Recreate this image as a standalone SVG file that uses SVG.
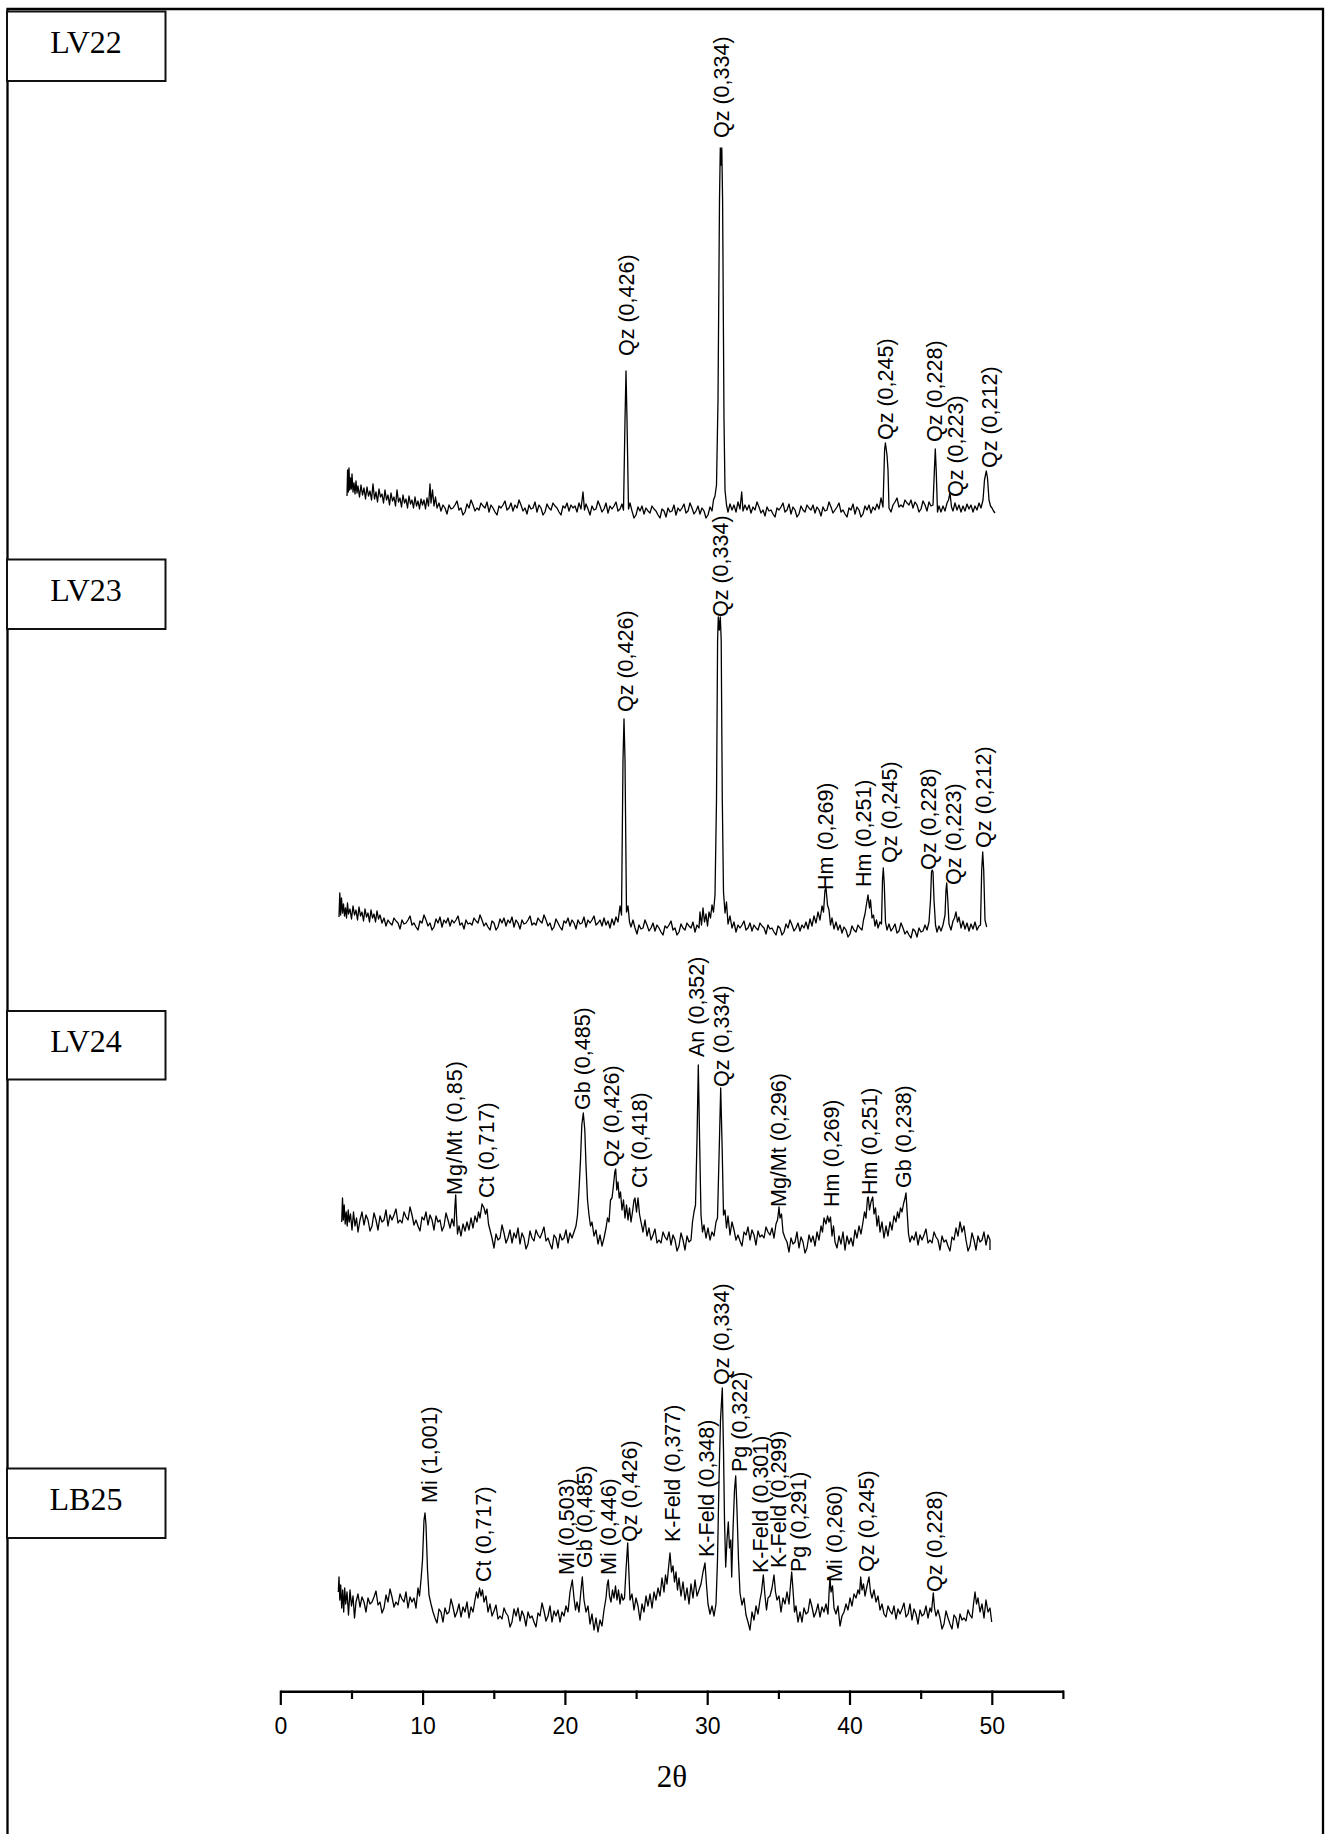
<svg xmlns="http://www.w3.org/2000/svg" width="1325" height="1834" viewBox="0 0 1325 1834">
<style>
.frame{fill:none;stroke:#000;stroke-width:2.3}
.box{fill:#fff;stroke:#111;stroke-width:2}
.boxtxt{font-family:"Liberation Serif","Times New Roman",serif;font-size:32px;fill:#000;text-anchor:middle}
.trace{fill:none;stroke:#000;stroke-width:1.3;stroke-linejoin:round}
.lbl{font-family:"Liberation Sans",Arial,sans-serif;font-size:21.5px;fill:#000}
.axis{fill:none;stroke:#000;stroke-width:2.5}
.tick{stroke:#000;stroke-width:2.2}
.ticklbl{font-family:"Liberation Sans",Arial,sans-serif;font-size:23px;fill:#000;text-anchor:middle}
.axtitle{font-family:"Liberation Serif","Times New Roman",serif;font-size:31px;fill:#000;text-anchor:middle}
</style>
<rect width="1325" height="1834" fill="#fff"/>
<path class="frame" d="M7.5,1834 V9 H1323 V1834"/>

<g id="LV22">
<rect class="box" x="7" y="11.5" width="158.5" height="69.5"/>
<text class="boxtxt" x="86" y="53">LV22</text>
<path class="trace" d="M347,496 L347.6,470 L348.3,492 L349,468 L349.7,490 L350.5,478 L351.3,489 L352,474 L353,492 L354,483 L355,494 L356,481 L357,493 L358,486 L359.5,497 L361,485 L362.5,495 L364,488 L365.5,499 L367,487 L368.5,496 L370,491 L371.5,500 L373,484 L374.5,499 L376,492 L377.5,502 L379,489 L380.5,497 L382,494 L383.5,503 L385,490 L386.5,500 L388,495 L389.5,505 L391,493 L392.5,501 L394,497 L395.5,506 L397,490 L398.5,502 L400,498 L401.5,507 L403,495 L404.5,503 L406,499 L407.5,508 L409,496 L410.5,504 L412,500 L413.5,508 L415,497 L416.5,506 L418,501 L419.5,509 L421,499 L422.5,505 L424,500 L425.5,509 L427,498 L428.5,506 L430,484 L431,503 L432.5,490 L434,506 L435.5,497 L437,508 l2,-5 2,8 2,-6 2,3 2,6 2,-9 2,4 2,-1 2,-3 2,-4 2,9 2,-2 2,7 2,-3 2,-8 2,4 2,-8 2,5 2,6 2,-3 2,2 2,-7 2,3 2,2 2,-6 2,10 2,-7 2,3 2,4 2,3 2,-9 2,2 2,-3 2,-4 2,9 2,-2 2,-5 2,8 2,-6 2,3 2,-8 2,5 2,6 2,-3 2,6 2,-9 2,4 2,-1 2,-6 2,10 2,-7 2,3 2,7 2,-3 2,-8 2,4 2,2 2,-7 2,3 2,2 2,4 2,3 2,-9 2,2 2,-5 2,8 2,-6 2,3 L575,506 L577,512 L579,503 L581,509 L583,492 L584.5,510 L586,504 L588,509 l2,6 2,-9 2,4 2,-1 2,-8 2,5 2,6 2,-3 2,-6 2,10 2,-7 2,3 2,-3 2,-4 2,9 2,-2 L622,504 L623.5,510 L625,420 L626,371 L627,420 L628.5,509 L630,503 L632,511 l2,7 2,-3 2,-8 2,4 2,-5 2,8 2,-6 2,3 2,2 2,-7 2,3 2,2 2,4 2,3 2,-9 2,2 2,6 2,-9 2,4 2,-1 2,-6 2,10 2,-7 2,3 2,-3 2,-4 2,9 2,-2 2,-8 2,5 2,6 2,-3 2,-5 2,8 2,-6 2,3 2,7 2,-3 2,-8 2,4 L713.5,500 L715,496 L716.5,485 L718,400 L719.5,200 L720.3,148 L721,165 L721.8,148 L722.6,200 L724,420 L725,490 L726.5,505 L728,512 L730,504 L732,510 L734,505 L736,512 L738,502 L740,509 L741.7,492 L743,511 L745,505 L747,510 l2,-5 2,8 2,-6 2,3 2,-8 2,5 2,6 2,-3 2,6 2,-9 2,4 2,-1 2,4 2,3 2,-9 2,2 2,-3 2,-4 2,9 2,-2 2,-6 2,10 2,-7 2,3 2,7 2,-3 2,-8 2,4 2,2 2,-7 2,3 2,2 2,-5 2,8 2,-6 2,3 2,6 2,-9 2,4 2,-1 2,-8 2,5 2,6 2,-3 2,-3 2,-4 2,9 2,-2 2,4 2,3 2,-9 2,2 2,-6 2,10 2,-7 2,3 2,7 2,-3 2,-8 2,4 2,-5 2,8 2,-6 2,3 L877,504 L879,509 L881,498 L883,507 L884.6,450 L885.4,443 L886.2,449 L887,455 L888,470 L889,508 L891,512 L893,505 l2,-3 2,-4 2,9 2,-2 2,2 2,-7 2,3 2,2 2,-5 2,8 2,-6 2,3 2,7 2,-3 2,-8 2,4 2,6 2,-9 2,4 2,-1 L934.4,470 L935.3,449 L936.2,470 L937.5,512 L939,506 L941,512 L943,506 L945,511 L947,503 L948.5,500 L950,493 L951.5,507 L953,511 L955,503 L957,510 L959,505 L961,512 L963,506 L965,511 L967,504 L969,509 L971,505 L973,512 L975,506 L977,510 L979,503 L981,508 L983,500 L984.5,480 L986.3,471 L987.5,478 L989,500 L990.5,506 L992,508 L993.5,511 L995,513"/>
<text class="lbl" transform="translate(634,356) rotate(-90)">Qz (0,426)</text>
<text class="lbl" transform="translate(729,138) rotate(-90)">Qz (0,334)</text>
<text class="lbl" transform="translate(893,440) rotate(-90)">Qz (0,245)</text>
<text class="lbl" transform="translate(942,442) rotate(-90)">Qz (0,228)</text>
<text class="lbl" transform="translate(963,497) rotate(-90)">Qz (0,223)</text>
<text class="lbl" transform="translate(997,468) rotate(-90)">Qz (0,212)</text>
</g>

<g id="LV23">
<rect class="box" x="7" y="559.5" width="158.5" height="69.5"/>
<text class="boxtxt" x="86" y="601">LV23</text>
<path class="trace" d="M339,917 L339.8,893 L340.6,915 L341.5,898 L342.5,913 L343.5,904 L344.5,916 L345.5,908 L346.5,918 L347.5,903 L348.5,914 L350,909 L351.5,919 L353,906 L354.5,915 L356,910 L357.5,920 L359,907 L360.5,916 L362,912 L363.5,921 L365,909 L366.5,917 L368,913 L369.5,922 L371,910 L372.5,918 L374,914 L375.5,922 L377,911 L378.5,919 L380,915 L382,923 l2,-5 2,8 2,-6 2,3 2,2 2,-7 2,3 2,2 2,6 2,-9 2,4 2,-1 2,-3 2,-4 2,9 2,-2 2,4 2,3 2,-9 2,2 2,-8 2,5 2,6 2,-3 2,7 2,-3 2,-8 2,4 2,-6 2,10 2,-7 2,3 2,-5 2,8 2,-6 2,3 2,-3 2,-4 2,9 2,-2 2,6 2,-9 2,4 2,-1 2,2 2,-7 2,3 2,2 2,-8 2,5 2,6 2,-3 2,4 2,3 2,-9 2,2 2,7 2,-3 2,-8 2,4 2,-5 2,8 2,-6 2,3 2,-6 2,10 2,-7 2,3 2,6 2,-9 2,4 2,-1 2,-3 2,-4 2,9 2,-2 2,2 2,-7 2,3 2,2 2,-8 2,5 2,6 2,-3 2,7 2,-3 2,-8 2,4 2,4 2,3 2,-9 2,2 2,-5 2,8 2,-6 2,3 2,6 2,-9 2,4 2,-1 2,-6 2,10 2,-7 2,3 2,-3 2,-4 2,9 2,-2 L600,920 L602,926 L604,918 L606,925 L608,921 L610,928 L612,919 L614,925 L616,917 L618,922 L620,906 L621.5,915 L623,760 L624,719 L625,760 L626.5,912 L628,906 L629.5,922 L631,927 L633,920 L635,928 l2,6 2,-9 2,4 2,-1 2,-8 2,5 2,6 2,-3 2,-5 2,8 2,-6 2,3 2,4 2,3 2,-9 2,2 2,-3 2,-4 2,9 2,-2 2,7 2,-3 2,-8 2,4 2,2 2,-7 2,3 2,2 2,-6 2,10 2,-7 2,3 L700,912 L701.5,925 L703,908 L704.5,922 L706,914 L707.5,926 L709,912 L710.5,918 L712,905 L713.5,912 L715,895 L716.5,800 L717.6,640 L718.3,617 L719.3,630 L720.3,617 L721.2,640 L722.3,800 L723.5,892 L725,913 L726.5,902 L728,924 L730,916 L732,928 l2,-6 2,10 2,-7 2,3 2,-3 2,-4 2,9 2,-2 2,-5 2,8 2,-6 2,3 2,2 2,-7 2,3 2,2 2,6 2,-9 2,4 2,-1 2,4 2,3 2,-9 2,2 2,7 2,-3 2,-8 2,4 2,-8 2,5 2,6 2,-3 2,-5 2,8 2,-6 2,3 L806,922 L808,929 L810,919 L812,926 L814,916 L816,923 L818,912 L820,920 L822,906 L823.5,912 L825,890 L826,888 L827.5,905 L829,910 L830.5,925 L832,918 L834,929 L836,922 L838,930 l2,-5 2,8 2,-6 2,3 2,7 2,-3 2,-8 2,4 2,2 2,-7 2,3 2,2 L863.5,920 L865,914 L866.5,904 L868,895 L869.5,908 L870.5,900 L872,918 L873.5,915 L875,926 L876.5,920 L878,928 L880,922 L881.5,924 L882.5,880 L883.3,868 L884.3,885 L885.5,922 L887,930 L889,924 L891,931 l2,-3 2,-4 2,9 2,-2 2,-8 2,5 2,6 2,-3 2,4 2,3 2,-9 2,2 2,6 2,-9 2,4 2,-1 L925,925 L927,930 L929,922 L930.5,900 L931.5,872 L932.2,870 L933,872 L934,900 L935.5,925 L937,932 L939,926 L941,931 L943,925 L945,915 L946,890 L946.7,883 L947.8,900 L949,924 L951,930 L953,921 L954.5,918 L956,912 L957.5,922 L959,917 L961,928 L963,921 L965,929 L967,923 L969,931 L971,924 L973,929 L975,922 L977,930 L979,926 L980.5,925 L981.7,870 L982.7,852 L983.7,870 L985,920 L986.7,927"/>
<text class="lbl" transform="translate(632.5,712) rotate(-90)">Qz (0,426)</text>
<text class="lbl" transform="translate(727.5,617) rotate(-90)">Qz (0,334)</text>
<text class="lbl" transform="translate(833,890) rotate(-90)">Hm (0,269)</text>
<text class="lbl" transform="translate(871,887) rotate(-90)">Hm (0,251)</text>
<text class="lbl" transform="translate(897,863) rotate(-90)">Qz (0,245)</text>
<text class="lbl" transform="translate(936,870) rotate(-90)">Qz (0,228)</text>
<text class="lbl" transform="translate(960.5,885) rotate(-90)">Qz (0,223)</text>
<text class="lbl" transform="translate(991,848) rotate(-90)">Qz (0,212)</text>
</g>

<g id="LV24">
<rect class="box" x="7" y="1011" width="158.5" height="68.5"/>
<text class="boxtxt" x="86" y="1052">LV24</text>
<path class="trace" d="M341.7,1222 L342.5,1198 L343.3,1220 L344.2,1205 L345.2,1224 L346.2,1212 L347.2,1226 L348.2,1210 L349.2,1222 L350.5,1214 L352,1230 L353.5,1212 L355,1226 L356.5,1218 L358,1232 L360,1220 l2,-8 2,13 2,-10 2,5 2,11 2,-5 2,-13 2,7 2,10 2,-14 2,6 2,-2 2,-10 2,16 2,-11 2,5 2,-5 2,-6 2,14 2,-3 2,3 2,-11 2,5 2,3 2,-13 2,8 2,10 2,-5 2,6 2,5 2,-14 2,3 2,-8 2,13 2,-10 2,5 2,10 2,-14 2,6 2,-2 2,11 2,-5 2,-13 2,7 L450,1228 L452,1219 L454,1226 L455,1205 L455.7,1195 L456.5,1215 L457.5,1234 L459,1226 L461,1236 L463,1224 L465,1231 L467,1222 L469,1230 L471,1218 L473,1228 L475,1216 L477,1222 L478.5,1212 L480,1218 L482,1204 L484,1208 L485.5,1214 L487,1209 L488.5,1224 L490,1230 L492,1238 l2,10 2,-14 2,6 2,-2 2,-13 2,8 2,10 2,-5 2,-8 2,13 2,-10 2,5 2,-10 2,16 2,-11 2,5 2,11 2,-5 2,-13 2,7 2,3 2,-11 2,5 2,3 2,-5 2,-6 2,14 2,-3 2,6 2,5 2,-14 2,3 2,10 2,-14 2,6 2,-2 2,-8 2,13 2,-10 2,5 L574,1232 L576,1226 L577.5,1215 L579,1190 L580.5,1160 L581.8,1125 L583.3,1113 L584.8,1130 L586,1165 L587.5,1200 L589,1215 L590.5,1226 L592,1222 L594,1236 L596,1230 L598,1244 L600,1235 L602,1246 L604,1238 L606,1228 L607.5,1218 L609,1222 L610.5,1200 L612,1198 L613.5,1185 L614.8,1172 L615.7,1169 L616.8,1190 L618,1182 L619.2,1198 L620.5,1192 L622,1210 L623.5,1200 L625,1218 L626.5,1205 L628,1220 L629.5,1208 L631,1222 L632.5,1212 L634,1200 L635,1198 L636.5,1212 L638,1198 L639.5,1214 L641,1222 L643,1232 L645,1220 L647,1236 L649,1228 L651,1240 l2,-5 2,-6 2,14 2,-3 2,3 2,-11 2,5 2,3 2,-8 2,13 2,-10 2,5 2,11 2,-5 2,-13 2,7 2,10 2,-14 2,6 2,-2 L692.5,1222 L694,1212 L695.5,1205 L697,1140 L698.3,1065 L699.6,1140 L701,1215 L702.5,1232 L704,1225 L706,1238 L708,1228 L710,1240 L712,1232 L714,1236 L716,1222 L717.5,1218 L719.2,1150 L720.7,1088 L722.2,1150 L723.5,1215 L725,1210 L726.5,1228 L728,1216 L730,1235 l2,-13 2,8 2,10 2,-5 2,6 2,5 2,-14 2,3 2,-8 2,13 2,-10 2,5 2,10 2,-14 2,6 2,-2 2,3 2,-11 2,5 2,3 L772,1228 L774,1238 L776,1224 L777.5,1220 L778.5,1212 L779,1207 L780,1218 L781.5,1214 L783,1232 L785,1238 L787,1242 l2,10 2,-14 2,6 2,-2 2,-10 2,16 2,-11 2,5 2,11 2,-5 2,-13 2,7 L813,1236 L815,1246 L817,1232 L819,1240 L821,1226 L822.5,1232 L824,1218 L826,1224 L827.5,1216 L829,1222 L830.5,1217 L832,1236 L833.5,1226 L835,1242 L837,1248 L839,1236 L841,1244 L843,1232 L845,1250 L847,1236 L849,1244 L851,1238 L853,1246 L855,1230 L857,1238 L859,1226 L861,1234 L863,1222 L864.5,1212 L866,1218 L867.5,1198 L868.3,1197 L869.5,1210 L871,1202 L872.7,1197 L874,1214 L875.5,1208 L877,1226 L878.5,1216 L880,1232 L882,1222 L884,1238 L886,1226 L888,1236 L890,1222 L892,1230 L894,1216 L896,1222 L897.5,1212 L899,1218 L900.5,1208 L902,1212 L903.5,1204 L905,1198 L906,1193 L907,1210 L908.5,1234 L910,1242 L912,1236 L914,1240 l2,-8 2,13 2,-10 2,5 2,-5 2,-6 2,14 2,-3 2,3 2,-11 2,5 2,3 2,10 2,-14 2,6 2,-2 2,6 2,5 2,-14 2,3 L956,1228 L958,1236 L960,1222 L962,1232 L964,1226 L966,1240 l2,11 2,-5 2,-13 2,7 2,10 2,-14 2,6 2,-2 2,-8 2,13 2,-10 2,5 L990,1250"/>
<text class="lbl" transform="translate(462,1195) rotate(-90)" textLength="134" lengthAdjust="spacing">Mg/Mt (0,85)</text>
<text class="lbl" transform="translate(493.5,1198) rotate(-90)">Ct (0,717)</text>
<text class="lbl" transform="translate(590,1110) rotate(-90)">Gb (0,485)</text>
<text class="lbl" transform="translate(619,1167) rotate(-90)">Qz (0,426)</text>
<text class="lbl" transform="translate(647,1188) rotate(-90)">Ct (0,418)</text>
<text class="lbl" transform="translate(704,1057) rotate(-90)">An (0,352)</text>
<text class="lbl" transform="translate(728.5,1087) rotate(-90)">Qz (0,334)</text>
<text class="lbl" transform="translate(786,1207) rotate(-90)">Mg/Mt (0,296)</text>
<text class="lbl" transform="translate(838.5,1207) rotate(-90)">Hm (0,269)</text>
<text class="lbl" transform="translate(877,1195) rotate(-90)">Hm (0,251)</text>
<text class="lbl" transform="translate(910.5,1188) rotate(-90)">Gb (0,238)</text>
</g>

<g id="LB25">
<rect class="box" x="7" y="1468.5" width="158.5" height="69.5"/>
<text class="boxtxt" x="86" y="1510">LB25</text>
<path class="trace" d="M338.3,1592 L339,1577 L339.8,1600 L340.7,1585 L341.7,1608 L342.7,1590 L343.7,1612 L344.7,1588 L345.7,1604 L347,1592 L348.5,1615 L350,1590 L351.5,1606 L353,1596 L354.5,1618 L356,1602 l2,-8 2,13 2,-10 2,5 2,10 2,-14 2,6 2,-2 2,-5 2,-6 2,14 2,-3 2,11 2,-5 2,-13 2,7 2,-13 2,8 2,10 2,-5 2,3 2,-11 2,5 2,3 2,-10 2,16 2,-11 2,5 L414,1598 L416,1608 L418,1588 L419.5,1596 L421,1580 L422.5,1560 L424,1520 L425,1513 L426,1525 L427.5,1570 L429,1595 L431,1604 L433,1612 l2,6 2,5 2,-14 2,3 2,10 2,-14 2,6 2,-2 2,-13 2,8 2,10 2,-5 2,-8 2,13 2,-10 2,5 2,-10 2,16 2,-11 2,5 L475,1600 L476.5,1592 L478,1598 L479.5,1588 L481,1596 L482.5,1590 L484,1602 L486,1596 L488,1612 L490,1604 L492,1616 l2,-5 2,-6 2,14 2,-3 2,3 2,-11 2,5 2,3 2,11 2,-5 2,-13 2,7 2,-8 2,13 2,-10 2,5 2,10 2,-14 2,6 2,-2 2,6 2,5 2,-14 2,3 2,-13 2,8 2,10 2,-5 2,-10 2,16 2,-11 2,5 L558,1610 L560,1622 L562,1612 L564,1616 L566,1606 L568,1612 L570,1592 L572.3,1580 L574,1598 L575.5,1610 L577,1602 L579,1612 L581,1590 L582.3,1577 L584,1600 L586,1612 L588,1606 L590,1624 L592,1614 L594,1630 L596,1618 L598,1632 L600,1620 L602,1626 L604,1610 L606,1598 L607.2,1585 L608.3,1580 L609.5,1596 L611,1602 L612.5,1590 L614,1598 L615.5,1586 L617,1600 L618.5,1590 L620,1604 L621.5,1594 L623,1600 L624.5,1598 L626,1570 L627.7,1543 L629,1575 L630,1600 L632,1594 L634,1610 L636,1598 L638,1606 L640,1620 L642,1604 L644,1612 L646,1596 L648,1606 L650,1594 L652,1608 L654,1592 L656,1600 L658,1588 L660,1596 L662,1578 L664,1592 L665.5,1575 L667,1584 L668.5,1568 L670,1553 L671.5,1572 L673,1566 L674.5,1582 L676,1572 L677.5,1590 L679,1578 L681,1596 L683,1582 L685,1600 L687,1588 L689,1604 L691,1584 L693,1598 L695,1580 L697,1596 L699,1590 L701,1584 L703,1572 L705,1563 L706.5,1585 L708,1604 L710,1614 L712,1606 L714,1616 L716,1604 L717.5,1560 L719,1480 L720.5,1420 L722.3,1388 L723.5,1450 L724.5,1520 L725.7,1567 L727,1540 L728.3,1522 L729.5,1548 L730.8,1540 L731.7,1577 L733,1530 L734.5,1490 L735.7,1476 L737,1510 L738.5,1560 L740,1593 L742,1605 L744,1598 L746,1615 L748,1622 L750,1630 L752,1612 L754,1620 L756,1606 L758,1614 L760,1600 L761.5,1592 L763.3,1575 L765,1596 L766.5,1610 L768,1598 L770,1596 L772,1588 L774,1575 L775.5,1592 L777,1600 L779,1596 L781,1612 L783,1598 L785,1604 L787,1592 L789,1604 L790.5,1585 L791.7,1572 L793,1590 L794.5,1612 L796,1606 L798,1622 L800,1612 l2,10 2,-14 2,6 2,-2 2,-13 2,8 2,10 2,-5 2,-8 2,13 2,-10 2,5 L826,1604 L828,1614 L829.2,1590 L830,1578 L831,1592 L832.5,1586 L834,1608 L836,1614 L838,1606 L840,1626 L842,1616 L844,1612 L846,1604 L848,1610 L850,1598 L852,1606 L854,1594 L856,1598 L858,1590 L859.5,1594 L860.7,1577 L862,1590 L863.5,1584 L865,1596 L867,1586 L869,1577 L870.5,1592 L872,1598 L874,1590 L876,1602 L878,1596 L880,1610 L882,1604 L884,1614 l2,3 2,-11 2,5 2,3 2,-8 2,13 2,-10 2,5 2,-5 2,-6 2,14 2,-3 2,-10 2,16 2,-11 2,5 2,10 2,-14 2,6 2,-2 L926,1606 L928,1618 L930,1608 L931.5,1612 L933.3,1593 L934.5,1608 L936,1616 L938,1610 L940,1618 l2,11 2,-5 2,-13 2,7 2,6 2,5 2,-14 2,3 2,10 2,-14 2,6 2,-2 2,3 2,-11 2,5 2,3 L973.5,1604 L975,1592 L976.5,1604 L978,1598 L980,1612 L982,1604 L984,1618 L986,1600 L988,1612 L990,1608 L991.7,1622"/>
<text class="lbl" transform="translate(437,1503) rotate(-90)">Mi (1,001)</text>
<text class="lbl" transform="translate(490.5,1582) rotate(-90)">Ct (0,717)</text>
<text class="lbl" transform="translate(574,1575) rotate(-90)">Mi (0,503)</text>
<text class="lbl" transform="translate(592,1568) rotate(-90)">Gb (0,485)</text>
<text class="lbl" transform="translate(616,1575) rotate(-90)">Mi (0,446)</text>
<text class="lbl" transform="translate(637,1542) rotate(-90)">Qz (0,426)</text>
<text class="lbl" transform="translate(680,1542) rotate(-90)">K-Feld (0,377)</text>
<text class="lbl" transform="translate(714,1557) rotate(-90)">K-Feld (0,348)</text>
<text class="lbl" transform="translate(729,1385) rotate(-90)">Qz (0,334)</text>
<text class="lbl" transform="translate(747,1472) rotate(-90)">Pg (0,322)</text>
<text class="lbl" transform="translate(767.5,1573) rotate(-90)">K-Feld (0,301)</text>
<text class="lbl" transform="translate(786,1568) rotate(-90)">K-Feld (0,299)</text>
<text class="lbl" transform="translate(805.5,1572) rotate(-90)">Pg (0,291)</text>
<text class="lbl" transform="translate(842,1582) rotate(-90)">Mi (0,260)</text>
<text class="lbl" transform="translate(873.5,1572) rotate(-90)">Qz (0,245)</text>
<text class="lbl" transform="translate(942,1592) rotate(-90)">Qz (0,228)</text>
</g>

<g id="x-axis">
<path class="axis" d="M280.8,1691.7 H1064"/>
<path class="tick" d="M280.8,1690.5 V1705 M352,1690.5 V1699 M423.1,1690.5 V1705 M494.3,1690.5 V1699 M565.4,1690.5 V1705 M636.6,1690.5 V1699 M707.7,1690.5 V1705 M778.9,1690.5 V1699 M850,1690.5 V1705 M921.2,1690.5 V1699 M992.3,1690.5 V1705 M1063.4,1690.5 V1699"/>
<text class="ticklbl" x="280.8" y="1734">0</text>
<text class="ticklbl" x="423.1" y="1734">10</text>
<text class="ticklbl" x="565.4" y="1734">20</text>
<text class="ticklbl" x="707.7" y="1734">30</text>
<text class="ticklbl" x="850" y="1734">40</text>
<text class="ticklbl" x="992.3" y="1734">50</text>
<text class="axtitle" x="672" y="1787">2θ</text>
</g>
</svg>
